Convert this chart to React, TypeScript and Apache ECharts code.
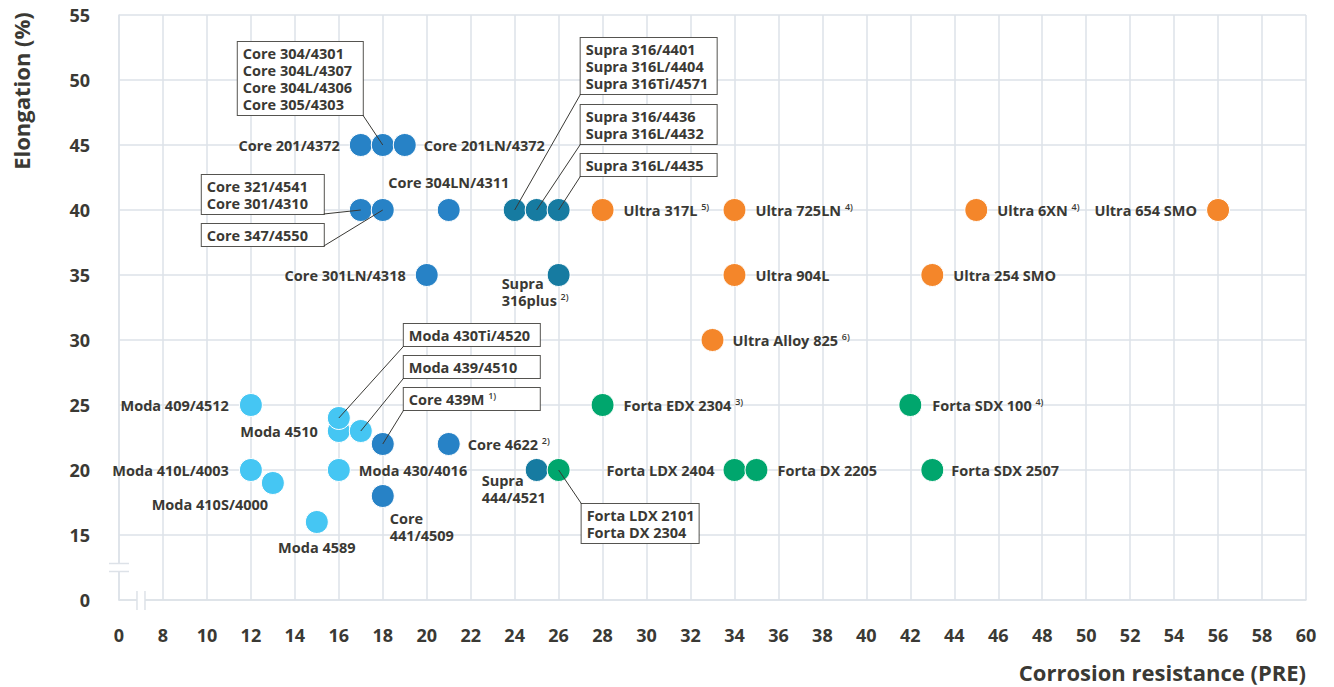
import React, { useEffect, useRef } from "react";
import * as echarts from "echarts";

// ---------- axis ticks (broken axes: first tick is labelled "0") ----------
const xTickValues = [6, 8, 10, 12, 14, 16, 18, 20, 22, 24, 26, 28, 30, 32, 34, 36, 38, 40, 42, 44, 46, 48, 50, 52, 54, 56, 58, 60];
const xTickLabels = ["0", "8", "10", "12", "14", "16", "18", "20", "22", "24", "26", "28", "30", "32", "34", "36", "38", "40", "42", "44", "46", "48", "50", "52", "54", "56", "58", "60"];
const yTickValues = [10, 15, 20, 25, 30, 35, 40, 45, 50, 55];
const yTickLabels = ["0", "15", "20", "25", "30", "35", "40", "45", "50", "55"];

// ---------- data ----------
const coreLabels = [
  "Core 201/4372",
  "Core 304/4301\nCore 304L/4307\nCore 304L/4306\nCore 305/4303",
  "Core 201LN/4372",
  "Core 321/4541\nCore 301/4310",
  "Core 347/4550",
  "Core 304LN/4311",
  "Core 301LN/4318",
  "Core 439M",
  "Core 4622",
  "Core\n441/4509",
];
const coreNotes = ["", "", "", "", "", "", "", "1)", "2)", ""];
const coreX = [17, 18, 19, 17, 18, 21, 20, 18, 21, 18];
const coreY = [45, 45, 45, 40, 40, 40, 35, 22, 22, 18];

const modaLabels = [
  "Moda 409/4512",
  "Moda 4510",
  "Moda 430Ti/4520",
  "Moda 439/4510",
  "Moda 410L/4003",
  "Moda 410S/4000",
  "Moda 430/4016",
  "Moda 4589",
];
const modaNotes = ["", "", "", "", "", "", "", ""];
const modaX = [12, 16, 16, 17, 12, 13, 16, 15];
const modaY = [25, 23, 24, 23, 20, 19, 20, 16];

const supraLabels = [
  "Supra 316/4401\nSupra 316L/4404\nSupra 316Ti/4571",
  "Supra 316/4436\nSupra 316L/4432",
  "Supra 316L/4435",
  "Supra\n316plus",
  "Supra\n444/4521",
];
const supraNotes = ["", "", "", "2)", ""];
const supraX = [24, 25, 26, 26, 25];
const supraY = [40, 40, 40, 35, 20];

const ultraLabels = ["Ultra 317L", "Ultra 725LN", "Ultra 6XN", "Ultra 654 SMO", "Ultra 904L", "Ultra 254 SMO", "Ultra Alloy 825"];
const ultraNotes = ["5)", "4)", "4)", "", "", "", "6)"];
const ultraX = [28, 34, 45, 56, 34, 43, 33];
const ultraY = [40, 40, 40, 40, 35, 35, 30];

const fortaLabels = ["Forta EDX 2304", "Forta SDX 100", "Forta LDX 2101\nForta DX 2304", "Forta LDX 2404", "Forta DX 2205", "Forta SDX 2507"];
const fortaNotes = ["3)", "4)", "", "", "", ""];
const fortaX = [28, 42, 26, 34, 35, 43];
const fortaY = [25, 25, 20, 20, 20, 20];

// ---------- styles ----------
const FONT = "'Open Sans', 'Liberation Sans', sans-serif";
const TEXT = "#3a3934";
const GRID = "#dde2e8";
const COLORS = {
  core: "#2782c6",
  moda: "#45c6f3",
  supra: "#167ba1",
  ultra: "#f4862a",
  forta: "#00a66d",
};
const BOX_PAD = [3, 5, 2, 5];

type Place =
  | { kind: "side"; pos: "left" | "right" | "top" | "bottom"; d: number }
  | { kind: "free"; off: [number, number]; align: string; vAlign: string }
  | { kind: "box"; off: [number, number]; corner: "left" | "right"; vAlign: string; w: number };

// off = pixel offset (from the point centre) of the box corner where the leader line ends
const placement: Record<string, Place> = {
  "Core 201/4372": { kind: "side", pos: "left", d: 9 },
  "Core 304/4301\nCore 304L/4307\nCore 304L/4306\nCore 305/4303": { kind: "box", off: [-20, -30], corner: "right", vAlign: "bottom", w: 115 },
  "Core 201LN/4372": { kind: "side", pos: "right", d: 7 },
  "Core 321/4541\nCore 301/4310": { kind: "box", off: [-37, 4], corner: "right", vAlign: "bottom", w: 112 },
  "Core 347/4550": { kind: "box", off: [-59, 36], corner: "right", vAlign: "bottom", w: 112 },
  "Core 304LN/4311": { kind: "side", pos: "top", d: 7 },
  "Core 301LN/4318": { kind: "side", pos: "left", d: 9 },
  "Core 439M": { kind: "box", off: [21, -34], corner: "left", vAlign: "bottom", w: 126 },
  "Core 4622": { kind: "side", pos: "right", d: 7 },
  "Core\n441/4509": { kind: "free", off: [7, 14], align: "left", vAlign: "top" },
  "Moda 409/4512": { kind: "side", pos: "left", d: 10 },
  "Moda 4510": { kind: "side", pos: "left", d: 9 },
  "Moda 430Ti/4520": { kind: "box", off: [65, -72], corner: "left", vAlign: "bottom", w: 126 },
  "Moda 439/4510": { kind: "box", off: [43, -53], corner: "left", vAlign: "bottom", w: 126 },
  "Moda 410L/4003": { kind: "side", pos: "left", d: 10 },
  "Moda 410S/4000": { kind: "free", off: [-63, 21], align: "center", vAlign: "middle" },
  "Moda 430/4016": { kind: "side", pos: "right", d: 8 },
  "Moda 4589": { kind: "side", pos: "bottom", d: 5 },
  "Supra 316/4401\nSupra 316L/4404\nSupra 316Ti/4571": { kind: "box", off: [66, -116], corner: "left", vAlign: "bottom", w: 126 },
  "Supra 316/4436\nSupra 316L/4432": { kind: "box", off: [44, -66], corner: "left", vAlign: "bottom", w: 126 },
  "Supra 316L/4435": { kind: "box", off: [22, -34], corner: "left", vAlign: "bottom", w: 126 },
  "Supra\n316plus": { kind: "free", off: [-57, 0], align: "left", vAlign: "top" },
  "Supra\n444/4521": { kind: "free", off: [-55, 2], align: "left", vAlign: "top" },
  "Ultra 317L": { kind: "side", pos: "right", d: 9 },
  "Ultra 725LN": { kind: "side", pos: "right", d: 9 },
  "Ultra 6XN": { kind: "side", pos: "right", d: 9 },
  "Ultra 654 SMO": { kind: "side", pos: "left", d: 9 },
  "Ultra 904L": { kind: "side", pos: "right", d: 9 },
  "Ultra 254 SMO": { kind: "side", pos: "right", d: 9 },
  "Ultra Alloy 825": { kind: "side", pos: "right", d: 8 },
  "Forta EDX 2304": { kind: "side", pos: "right", d: 9 },
  "Forta SDX 100": { kind: "side", pos: "right", d: 10 },
  "Forta LDX 2101\nForta DX 2304": { kind: "box", off: [23, 34], corner: "left", vAlign: "top", w: 107 },
  "Forta LDX 2404": { kind: "side", pos: "left", d: 8 },
  "Forta DX 2205": { kind: "side", pos: "right", d: 9 },
  "Forta SDX 2507": { kind: "side", pos: "right", d: 7 },
};

function labelFor(text: string, note: string) {
  const p = placement[text];
  const formatted = note ? `${text} {s|${note}}` : text;
  const base: any = { show: true, formatter: formatted };
  if (!p || p.kind === "side") {
    base.position = p ? p.pos : "right";
    base.distance = p ? p.d : 8;
    return base;
  }
  base.position = "inside";
  base.verticalAlign = p.vAlign;
  if (p.kind === "free") {
    base.offset = p.off;
    base.align = p.align;
    return base;
  }
  // boxed label: text is always left-aligned inside the box
  const outerW = p.w + BOX_PAD[1] + BOX_PAD[3];
  base.align = "left";
  base.offset = [p.corner === "right" ? p.off[0] - outerW : p.off[0], p.off[1]];
  base.backgroundColor = "#ffffff";
  base.borderColor = "#555450";
  base.borderWidth = 1;
  base.padding = BOX_PAD;
  base.width = p.w;
  return base;
}

function buildItems(labels: string[], notes: string[], xs: number[], ys: number[]) {
  return labels.map((t, i) => ({
    value: [xs[i], ys[i]],
    name: t,
    label: labelFor(t, notes[i]),
  }));
}

function makeSeries(name: string, color: string, labels: string[], notes: string[], xs: number[], ys: number[]) {
  return {
    type: "scatter",
    name,
    symbol: "circle",
    symbolSize: 23,
    z: 2,
    itemStyle: { color, borderColor: "#ffffff", borderWidth: 1, opacity: 1 },
    label: {
      show: true,
      color: TEXT,
      fontFamily: FONT,
      fontSize: 14.5,
      fontWeight: 700,
      lineHeight: 17,
      textBorderWidth: 0,
      rich: {
        s: { fontFamily: FONT, fontSize: 9, fontWeight: 600, color: TEXT, verticalAlign: "top", lineHeight: 10 },
      },
    },
    emphasis: { disabled: true },
    data: buildItems(labels, notes, xs, ys),
  };
}

const allGroups = [
  { labels: coreLabels, xs: coreX, ys: coreY },
  { labels: modaLabels, xs: modaX, ys: modaY },
  { labels: supraLabels, xs: supraX, ys: supraY },
  { labels: ultraLabels, xs: ultraX, ys: ultraY },
  { labels: fortaLabels, xs: fortaX, ys: fortaY },
];

export default function App() {
  const ref = useRef<HTMLDivElement>(null);

  useEffect(() => {
    if (!ref.current) return;
    const chart = echarts.init(ref.current, null, { renderer: "svg" });

    const option: any = {
      animation: false,
      backgroundColor: "#ffffff",
      grid: { left: 119, right: 28, top: 15, bottom: 87, containLabel: false, outerBoundsMode: "none" },
      xAxis: {
        type: "value",
        min: xTickValues[0],
        max: xTickValues[xTickValues.length - 1],
        interval: 2,
        axisLine: { show: true, lineStyle: { color: GRID, width: 1.5 } },
        axisTick: { show: false },
        splitLine: { show: true, lineStyle: { color: GRID, width: 1.5 } },
        axisLabel: {
          color: TEXT,
          fontFamily: FONT,
          fontSize: 18,
          fontWeight: 700,
          margin: 26,
          formatter: (v: number) => {
            const i = xTickValues.indexOf(v);
            return i >= 0 ? xTickLabels[i] : "";
          },
        },
      },
      yAxis: {
        type: "value",
        min: yTickValues[0],
        max: yTickValues[yTickValues.length - 1],
        interval: 5,
        axisLine: { show: true, lineStyle: { color: GRID, width: 1.5 } },
        axisTick: { show: false },
        splitLine: { show: true, lineStyle: { color: GRID, width: 1.5 } },
        axisLabel: {
          color: TEXT,
          fontFamily: FONT,
          fontSize: 18,
          fontWeight: 700,
          margin: 29,
          formatter: (v: number) => {
            const i = yTickValues.indexOf(v);
            return i >= 0 ? yTickLabels[i] : "";
          },
        },
      },
      series: [
        makeSeries("Core", COLORS.core, coreLabels, coreNotes, coreX, coreY),
        makeSeries("Moda", COLORS.moda, modaLabels, modaNotes, modaX, modaY),
        makeSeries("Supra", COLORS.supra, supraLabels, supraNotes, supraX, supraY),
        makeSeries("Ultra", COLORS.ultra, ultraLabels, ultraNotes, ultraX, ultraY),
        makeSeries("Forta", COLORS.forta, fortaLabels, fortaNotes, fortaX, fortaY),
      ],
    };
    chart.setOption(option);

    // leader lines, axis break marks and axis titles
    const graphics: any[] = [];
    const toPx = (v: number[]) => chart.convertToPixel({ xAxisIndex: 0, yAxisIndex: 0 }, v) as number[];
    allGroups.forEach((g) => {
      g.labels.forEach((t, i) => {
        const p = placement[t];
        if (p && p.kind === "box") {
          const c = toPx([g.xs[i], g.ys[i]]);
          graphics.push({
            type: "line",
            z: 50,
            silent: true,
            shape: { x1: c[0], y1: c[1], x2: c[0] + p.off[0], y2: c[1] + p.off[1] },
            style: { stroke: "#3a3935", lineWidth: 1 },
          });
        }
      });
    });

    // y-axis break (between 0 and 15)
    const yb = toPx([xTickValues[0], 12.5]);
    graphics.push({ type: "rect", z: 40, shape: { x: yb[0] - 3, y: yb[1] - 4, width: 6, height: 8 }, style: { fill: "#ffffff" } });
    graphics.push({ type: "line", z: 41, shape: { x1: yb[0] - 10, y1: yb[1] - 4, x2: yb[0] + 10, y2: yb[1] - 4 }, style: { stroke: GRID, lineWidth: 1.5 } });
    graphics.push({ type: "line", z: 41, shape: { x1: yb[0] - 10, y1: yb[1] + 4, x2: yb[0] + 10, y2: yb[1] + 4 }, style: { stroke: GRID, lineWidth: 1.5 } });
    // x-axis break (between 0 and 8)
    const xb = toPx([7, yTickValues[0]]);
    graphics.push({ type: "rect", z: 40, shape: { x: xb[0] - 4, y: xb[1] - 3, width: 8, height: 6 }, style: { fill: "#ffffff" } });
    graphics.push({ type: "line", z: 41, shape: { x1: xb[0] - 4, y1: xb[1] - 9, x2: xb[0] - 4, y2: xb[1] + 10 }, style: { stroke: GRID, lineWidth: 1.5 } });
    graphics.push({ type: "line", z: 41, shape: { x1: xb[0] + 4, y1: xb[1] - 9, x2: xb[0] + 4, y2: xb[1] + 10 }, style: { stroke: GRID, lineWidth: 1.5 } });

    // axis titles
    graphics.push({
      type: "text",
      z: 60,
      x: 21,
      y: 91,
      rotation: Math.PI / 2,
      style: { text: "Elongation (%)", fill: TEXT, font: `700 22px ${FONT}`, align: "center", verticalAlign: "middle" },
    });
    graphics.push({
      type: "text",
      z: 60,
      x: 1306,
      y: 672,
      style: { text: "Corrosion resistance (PRE)", fill: TEXT, font: `700 22px ${FONT}`, align: "right", verticalAlign: "middle" },
    });

    chart.setOption({ graphic: graphics });

    return () => chart.dispose();
  }, []);

  return <div ref={ref} style={{ position: "absolute", left: 0, top: 0, width: 1334, height: 687 }} />;
}
